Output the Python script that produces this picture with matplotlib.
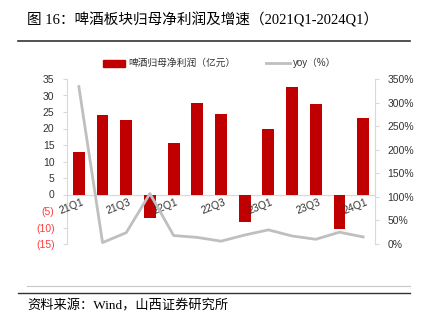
import matplotlib.pyplot as plt
import numpy as np

# data
quarters = ["21Q1", "21Q2", "21Q3", "21Q4", "22Q1", "22Q2", "22Q3",
            "22Q4", "23Q1", "23Q2", "23Q3", "23Q4", "24Q1"]
profit = [13.0, 24.0, 22.7, -7.2, 15.6, 27.7, 24.5,
          -8.4, 20.0, 32.5, 27.4, -10.6, 23.2]
yoy = [334, 3, 24, 107, 18, 14, 6, 19, 30, 17, 10, 25, 15]
left_ticks = [35, 30, 25, 20, 15, 10, 5, 0, -5, -10, -15]
right_ticks = [0, 50, 100, 150, 200, 250, 300, 350]

title = "图 16：啤酒板块归母净利润及增速（2021Q1-2024Q1）"
source = "资料来源：Wind，山西证券研究所"
bar_label = "啤酒归母净利润（亿元）"
line_label = "yoy（%）"

plt.rcParams["font.family"] = ["Liberation Sans", "Noto Sans CJK SC"]
mixed = ["Liberation Serif", "Noto Sans CJK SC"]
BAR = "#C00000"
LINE = "#BFBFBF"
AXIS = "#D9D9D9"

W, H = 423, 331
fig = plt.figure(figsize=(W / 100, H / 100), dpi=100)

fig.text(27 / W, 1 - 20 / H, title, fontsize=10.5, family=mixed, va="center", ha="left")
fig.add_artist(plt.Line2D([18 / W, 410 / W], [1 - 41 / H] * 2, color="#333333", lw=1.2))
fig.add_artist(plt.Line2D([27 / W, 410 / W], [1 - 286 / H] * 2, color="#C8C8C8", lw=0.8))
fig.add_artist(plt.Line2D([18 / W, 410 / W], [1 - 293 / H] * 2, color="#333333", lw=1.0))
fig.text(27 / W, 1 - 306 / H, source, fontsize=9.5, family=mixed, va="center", ha="left")

ax = fig.add_axes([67 / W, 1 - 244 / H, 308 / W, 165 / H])
x = np.arange(len(quarters))
ax.bar(x, profit, width=0.5, color=BAR, zorder=2)
ax.set_xlim(-0.5, len(quarters) - 0.5)
ax.set_ylim(-15, 35)
ax.set_yticks(left_ticks)
ax.set_yticklabels([str(v) if v >= 0 else f"({-v})" for v in left_ticks])
for lab, v in zip(ax.get_yticklabels(), left_ticks):
    lab.set_color("#FF3B3B" if v < 0 else "#333333")
ax.tick_params(axis="y", labelsize=7.5, length=3, color=AXIS, pad=6)
ax.set_xticks([])
for s in ["top", "bottom", "right"]:
    ax.spines[s].set_visible(False)
ax.spines["left"].set_color(AXIS)

# zero axis with category ticks
ax.axhline(0, color=AXIS, lw=0.8, zorder=1)
ax.vlines(x[:-1] + 0.5, -0.6, 0, color=AXIS, lw=0.8, zorder=1)
for i in range(0, len(quarters), 2):
    ax.text(i + 0.1, -0.8, quarters[i], rotation=22, ha="right", va="top",
            fontsize=7.5, color="#333333", rotation_mode="anchor", zorder=4)

ax2 = ax.twinx()
ax2.plot(x, yoy, color=LINE, lw=2, zorder=3)
ax2.set_ylim(0, 350)
ax2.set_yticks(right_ticks)
ax2.set_yticklabels([f"{v}%" for v in right_ticks])
ax2.tick_params(axis="y", labelsize=7.5, length=3, color=AXIS, pad=6, labelcolor="#333333")
for s in ["top", "bottom", "left"]:
    ax2.spines[s].set_visible(False)
ax2.spines["right"].set_color(AXIS)

# legend
fig.add_artist(plt.Rectangle((103 / W, 1 - 67 / H), 22 / W, 7 / H, color=BAR,
                             transform=fig.transFigure))
fig.text(128 / W, 1 - 63 / H, bar_label, fontsize=7, va="center", ha="left", color="#333333")
fig.add_artist(plt.Line2D([266 / W, 290 / W], [1 - 63 / H] * 2, color=LINE, lw=2))
fig.text(293 / W, 1 - 63 / H, line_label, fontsize=7, va="center", ha="left", color="#333333")

fig.savefig("out.png", dpi=100)
